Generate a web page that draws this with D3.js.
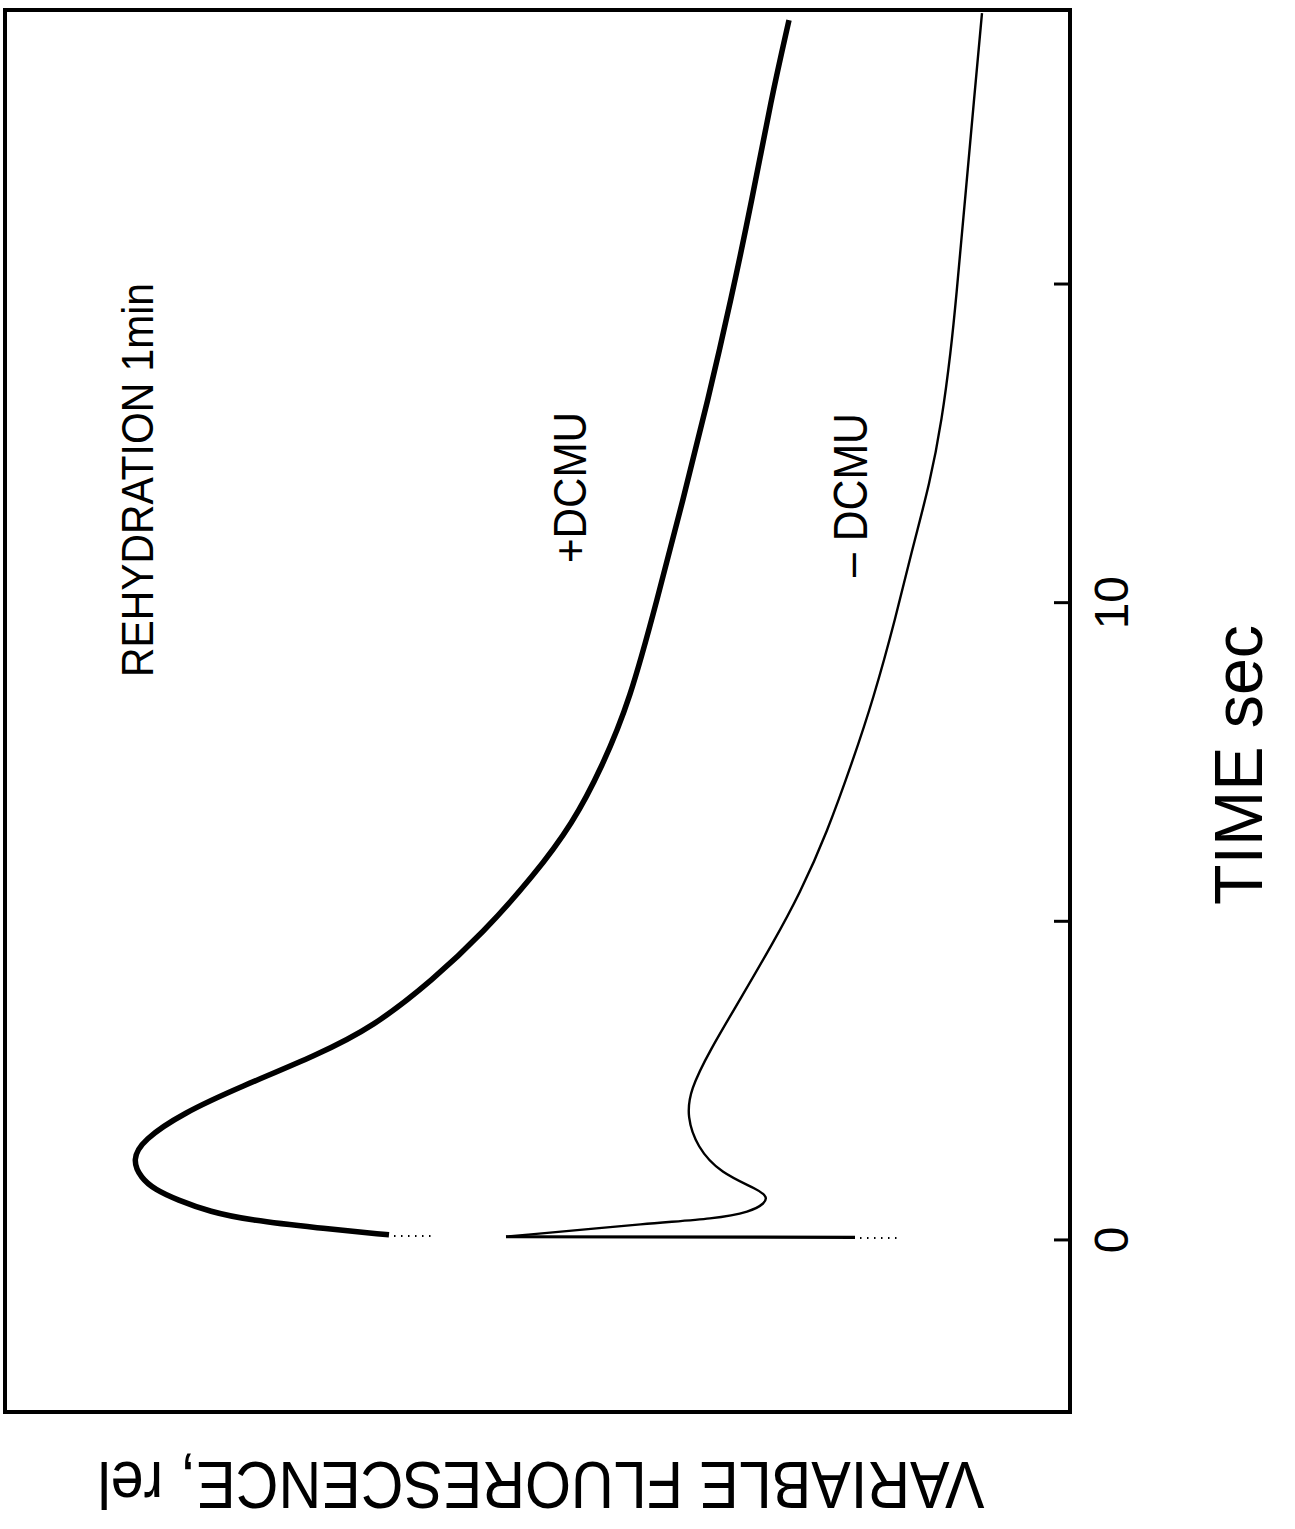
<!DOCTYPE html>
<meta charset="utf-8">
<head>
	<script type="text/javascript" src="https://cdn.jsdelivr.net/npm/d3@7"></script>
	<style>
		body { margin: 0; background: #fff; }
		text { font-family: "Liberation Sans Narrow", "Liberation Sans", Arial, sans-serif; fill: #000; }
	</style>
</head>
<body>
	<svg id="chart" width="1295" height="1529"></svg>
</body>
<script type="text/javascript">
	// time (sec) and variable fluorescence (rel)
	var timeTicks = [0, 5, 10, 15];
	var timeLabels = [0, 10];

	// +DCMU trace: [time, fluorescence]
	var plusDCMU = [[0.08,68.1],[0.19,75.4],[0.31,82.0],[0.44,86.0],[0.63,89.3],[0.79,91.5],[0.97,92.9],
		[1.26,93.8],[1.57,92.7],[1.99,88.7],[2.40,83.0],[2.90,75.3],[3.34,69.7],[4.08,63.7],[4.82,58.7],
		[5.70,53.7],[6.54,49.7],[7.42,46.8],[8.47,44.0],[10.04,41.3],[11.61,38.7],[13.18,36.2],[14.75,33.9],
		[16.32,31.8],[17.89,29.9],[19.14,28.1]];
	var plusDots = [[0.06,67.6],[0.06,63.8]];

	// -DCMU trace: fast rise at t=0, then the dip, hump and decay
	var minusRise = [[0.04,21.5],[0.05,56.4]];
	var minusDCMU = [[0.05,56.4],[0.27,41.4],[0.33,35.7],[0.44,31.9],[0.58,30.5],[0.67,30.3],[0.78,31.0],
		[1.05,35.0],[1.46,37.3],[1.93,38.3],[2.35,38.0],[2.98,36.0],[3.77,33.0],[4.66,29.7],[5.44,27.0],
		[6.39,24.3],[7.53,21.7],[8.47,19.7],[9.78,17.4],[10.83,15.8],[11.88,14.0],[12.87,12.8],[13.97,11.9],
		[14.75,11.4],[16.32,10.5],[17.89,9.6],[19.25,8.8]];
	var minusDots = [[0.03,21.0],[0.03,16.8]];

	var svg = d3.select('#chart');

	// the figure is printed turned a quarter turn: time runs up, fluorescence runs left
	var y = d3.scaleLinear().domain([-2.7, 19.3]).range([1412, 10]);
	var x = d3.scaleLinear().domain([0, 106.5]).range([1070, 5]);

	var line = d3.line()
		.x(function(d){ return x(d[1]); })
		.y(function(d){ return y(d[0]); })
		.curve(d3.curveBasis);
	var straight = d3.line()
		.x(function(d){ return x(d[1]); })
		.y(function(d){ return y(d[0]); });

	// frame
	svg.append('rect')
		.attr('x', x.range()[1]).attr('y', y.range()[1])
		.attr('width', x.range()[0] - x.range()[1])
		.attr('height', y.range()[0] - y.range()[1])
		.attr('fill', 'none').attr('stroke', '#000').attr('stroke-width', 4);

	// time ticks, pointing inward from the right edge
	svg.selectAll('.tick').data(timeTicks).enter().append('line')
		.attr('x1', x(0)).attr('x2', x(0) - 16)
		.attr('y1', function(d){ return y(d); })
		.attr('y2', function(d){ return y(d); })
		.attr('stroke', '#000').attr('stroke-width', 3);

	svg.selectAll('.tlabel').data(timeLabels).enter().append('text')
		.attr('transform', function(d){ return 'translate(1128,' + y(d) + ') rotate(-90)'; })
		.attr('text-anchor', 'middle')
		.style('font-size', '48px')
		.text(function(d){ return d; });

	// traces
	svg.append('path').attr('d', line(plusDCMU))
		.attr('fill', 'none').attr('stroke', '#000').attr('stroke-width', 5.5);
	svg.append('path').attr('d', straight(minusRise))
		.attr('fill', 'none').attr('stroke', '#000').attr('stroke-width', 3.2);
	svg.append('path').attr('d', line(minusDCMU))
		.attr('fill', 'none').attr('stroke', '#000').attr('stroke-width', 2.4);

	[plusDots, minusDots].forEach(function(dd){
		svg.append('path').attr('d', straight(dd))
			.attr('stroke', '#000').attr('stroke-width', 2)
			.attr('stroke-dasharray', '1.5,5.5');
	});

	// labels
	function vtext(tx, ty, str, size, len){
		svg.append('text')
			.attr('transform', 'translate(' + tx + ',' + ty + ') rotate(-90)')
			.attr('textLength', len).attr('lengthAdjust', 'spacingAndGlyphs')
			.style('font-size', size + 'px')
			.text(str);
	}
	vtext(153, 677, 'REHYDRATION 1min', 45, 394);
	vtext(586, 563, '+DCMU', 47, 151);
	vtext(867, 577, '\u2013 DCMU', 48, 164);
	vtext(1262, 905, 'TIME sec', 68, 280);

	svg.append('text')
		.attr('transform', 'translate(541,1462) rotate(180)')
		.attr('text-anchor', 'middle')
		.attr('textLength', 887).attr('lengthAdjust', 'spacingAndGlyphs')
		.style('font-size', '66px')
		.text('VARIABLE FLUORESCENCE, rel');
</script>
